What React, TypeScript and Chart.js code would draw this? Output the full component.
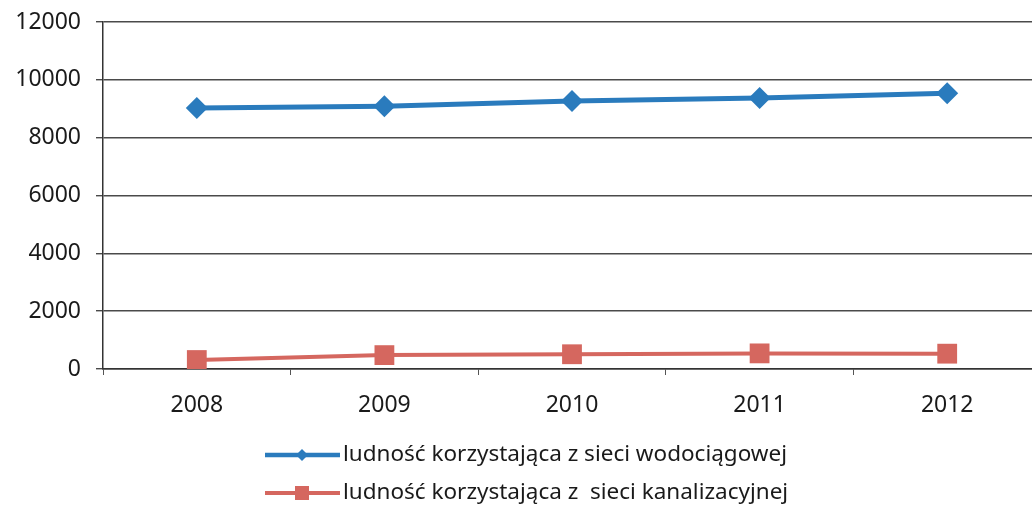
import React, { useEffect, useRef } from "react";
import { Chart, registerables } from "chart.js";

Chart.register(...registerables);

const years = ["2008", "2009", "2010", "2011", "2012"];
const waterSupply = [9030, 9090, 9270, 9370, 9540];
const sewerage = [310, 480, 510, 540, 530];
const seriesNames = [
  "ludność korzystająca z sieci wodociągowej",
  "ludność korzystająca z  sieci kanalizacyjnej",
];
const yTicks = [0, 2000, 4000, 6000, 8000, 10000, 12000];

const BLUE = "#2a7bbd";
const RED = "#d5675f";
const FONT = "'Noto Sans', 'DejaVu Sans', sans-serif";

const legendPlugin = {
  id: "customLegend",
  afterDraw(chart: any) {
    const ctx = chart.ctx;
    const items = [
      { text: seriesNames[0], color: BLUE, style: "diamond", y: 455 },
      { text: seriesNames[1], color: RED, style: "square", y: 493 },
    ];
    const x0 = 265;
    ctx.save();
    items.forEach((it) => {
      ctx.strokeStyle = it.color;
      ctx.lineWidth = it.style === "diamond" ? 4.5 : 4;
      ctx.beginPath();
      ctx.moveTo(x0, it.y);
      ctx.lineTo(x0 + 75, it.y);
      ctx.stroke();
      ctx.fillStyle = it.color;
      const cx = x0 + 37;
      if (it.style === "diamond") {
        ctx.beginPath();
        ctx.moveTo(cx, it.y - 6);
        ctx.lineTo(cx + 6, it.y);
        ctx.lineTo(cx, it.y + 6);
        ctx.lineTo(cx - 6, it.y);
        ctx.closePath();
        ctx.fill();
      } else {
        ctx.fillRect(cx - 7, it.y - 7, 14, 14);
      }
      ctx.fillStyle = "#1a1a1a";
      ctx.font = `22.5px ${FONT}`;
      ctx.textBaseline = "middle";
      ctx.textAlign = "left";
      ctx.fillText(it.text, x0 + 78, it.y);
    });
    ctx.restore();
  },
};

export default function App() {
  const ref = useRef<HTMLCanvasElement | null>(null);
  useEffect(() => {
    if (!ref.current) return;
    const chart = new Chart(ref.current, {
      type: "line",
      data: {
        labels: years,
        datasets: [
          {
            label: seriesNames[0],
            data: waterSupply,
            borderColor: BLUE,
            backgroundColor: BLUE,
            borderWidth: 5,
            pointStyle: "rectRot",
            pointRadius: 11,
            pointBorderWidth: 0,
            tension: 0,
          },
          {
            label: seriesNames[1],
            data: sewerage,
            borderColor: RED,
            backgroundColor: RED,
            borderWidth: 4,
            pointStyle: "rect",
            pointRadius: 14,
            pointBorderWidth: 0,
            tension: 0,
          },
        ],
      },
      options: {
        animation: false,
        responsive: false,
        maintainAspectRatio: false,
        layout: { padding: { top: 22, left: 0, right: 5, bottom: 91 } },
        plugins: { legend: { display: false }, tooltip: { enabled: false } },
        scales: {
          x: {
            offset: true,
            grid: {
              display: true,
              drawOnChartArea: false,
              drawTicks: true,
              tickLength: 6,
              offset: true,
              color: "#555",
            },
            border: { display: true, color: "#333", width: 1.5 },
            ticks: {
              color: "#1a1a1a",
              font: { family: FONT, size: 23 },
              padding: 17,
            },
            afterFit(scale: any) {
              scale.height = 50;
              scale.paddingLeft = 0;
              scale.paddingRight = 0;
            },
          },
          y: {
            min: 0,
            max: 12000,
            afterBuildTicks(scale: any) {
              scale.ticks = yTicks.map((v) => ({ value: v }));
            },
            grid: {
              color: "#4a4a4a",
              lineWidth: 1.4,
              tickLength: 7,
            },
            border: { display: true, color: "#333", width: 1.5 },
            ticks: {
              color: "#1a1a1a",
              font: { family: FONT, size: 23 },
              padding: 15,
              callback: (v: any) => String(v),
            },
            afterFit(scale: any) {
              scale.width = 103;
              scale.paddingTop = 0;
              scale.paddingBottom = 0;
            },
          },
        },
      },
      plugins: [legendPlugin],
    });
    return () => chart.destroy();
  }, []);
  return (
    <div
      style={{
        position: "fixed",
        left: 0,
        top: 0,
        width: 1032,
        height: 510,
        overflow: "hidden",
        background: "#fff",
      }}
    >
      <canvas ref={ref} width={1055} height={510} style={{ display: "block" }} />
    </div>
  );
}
